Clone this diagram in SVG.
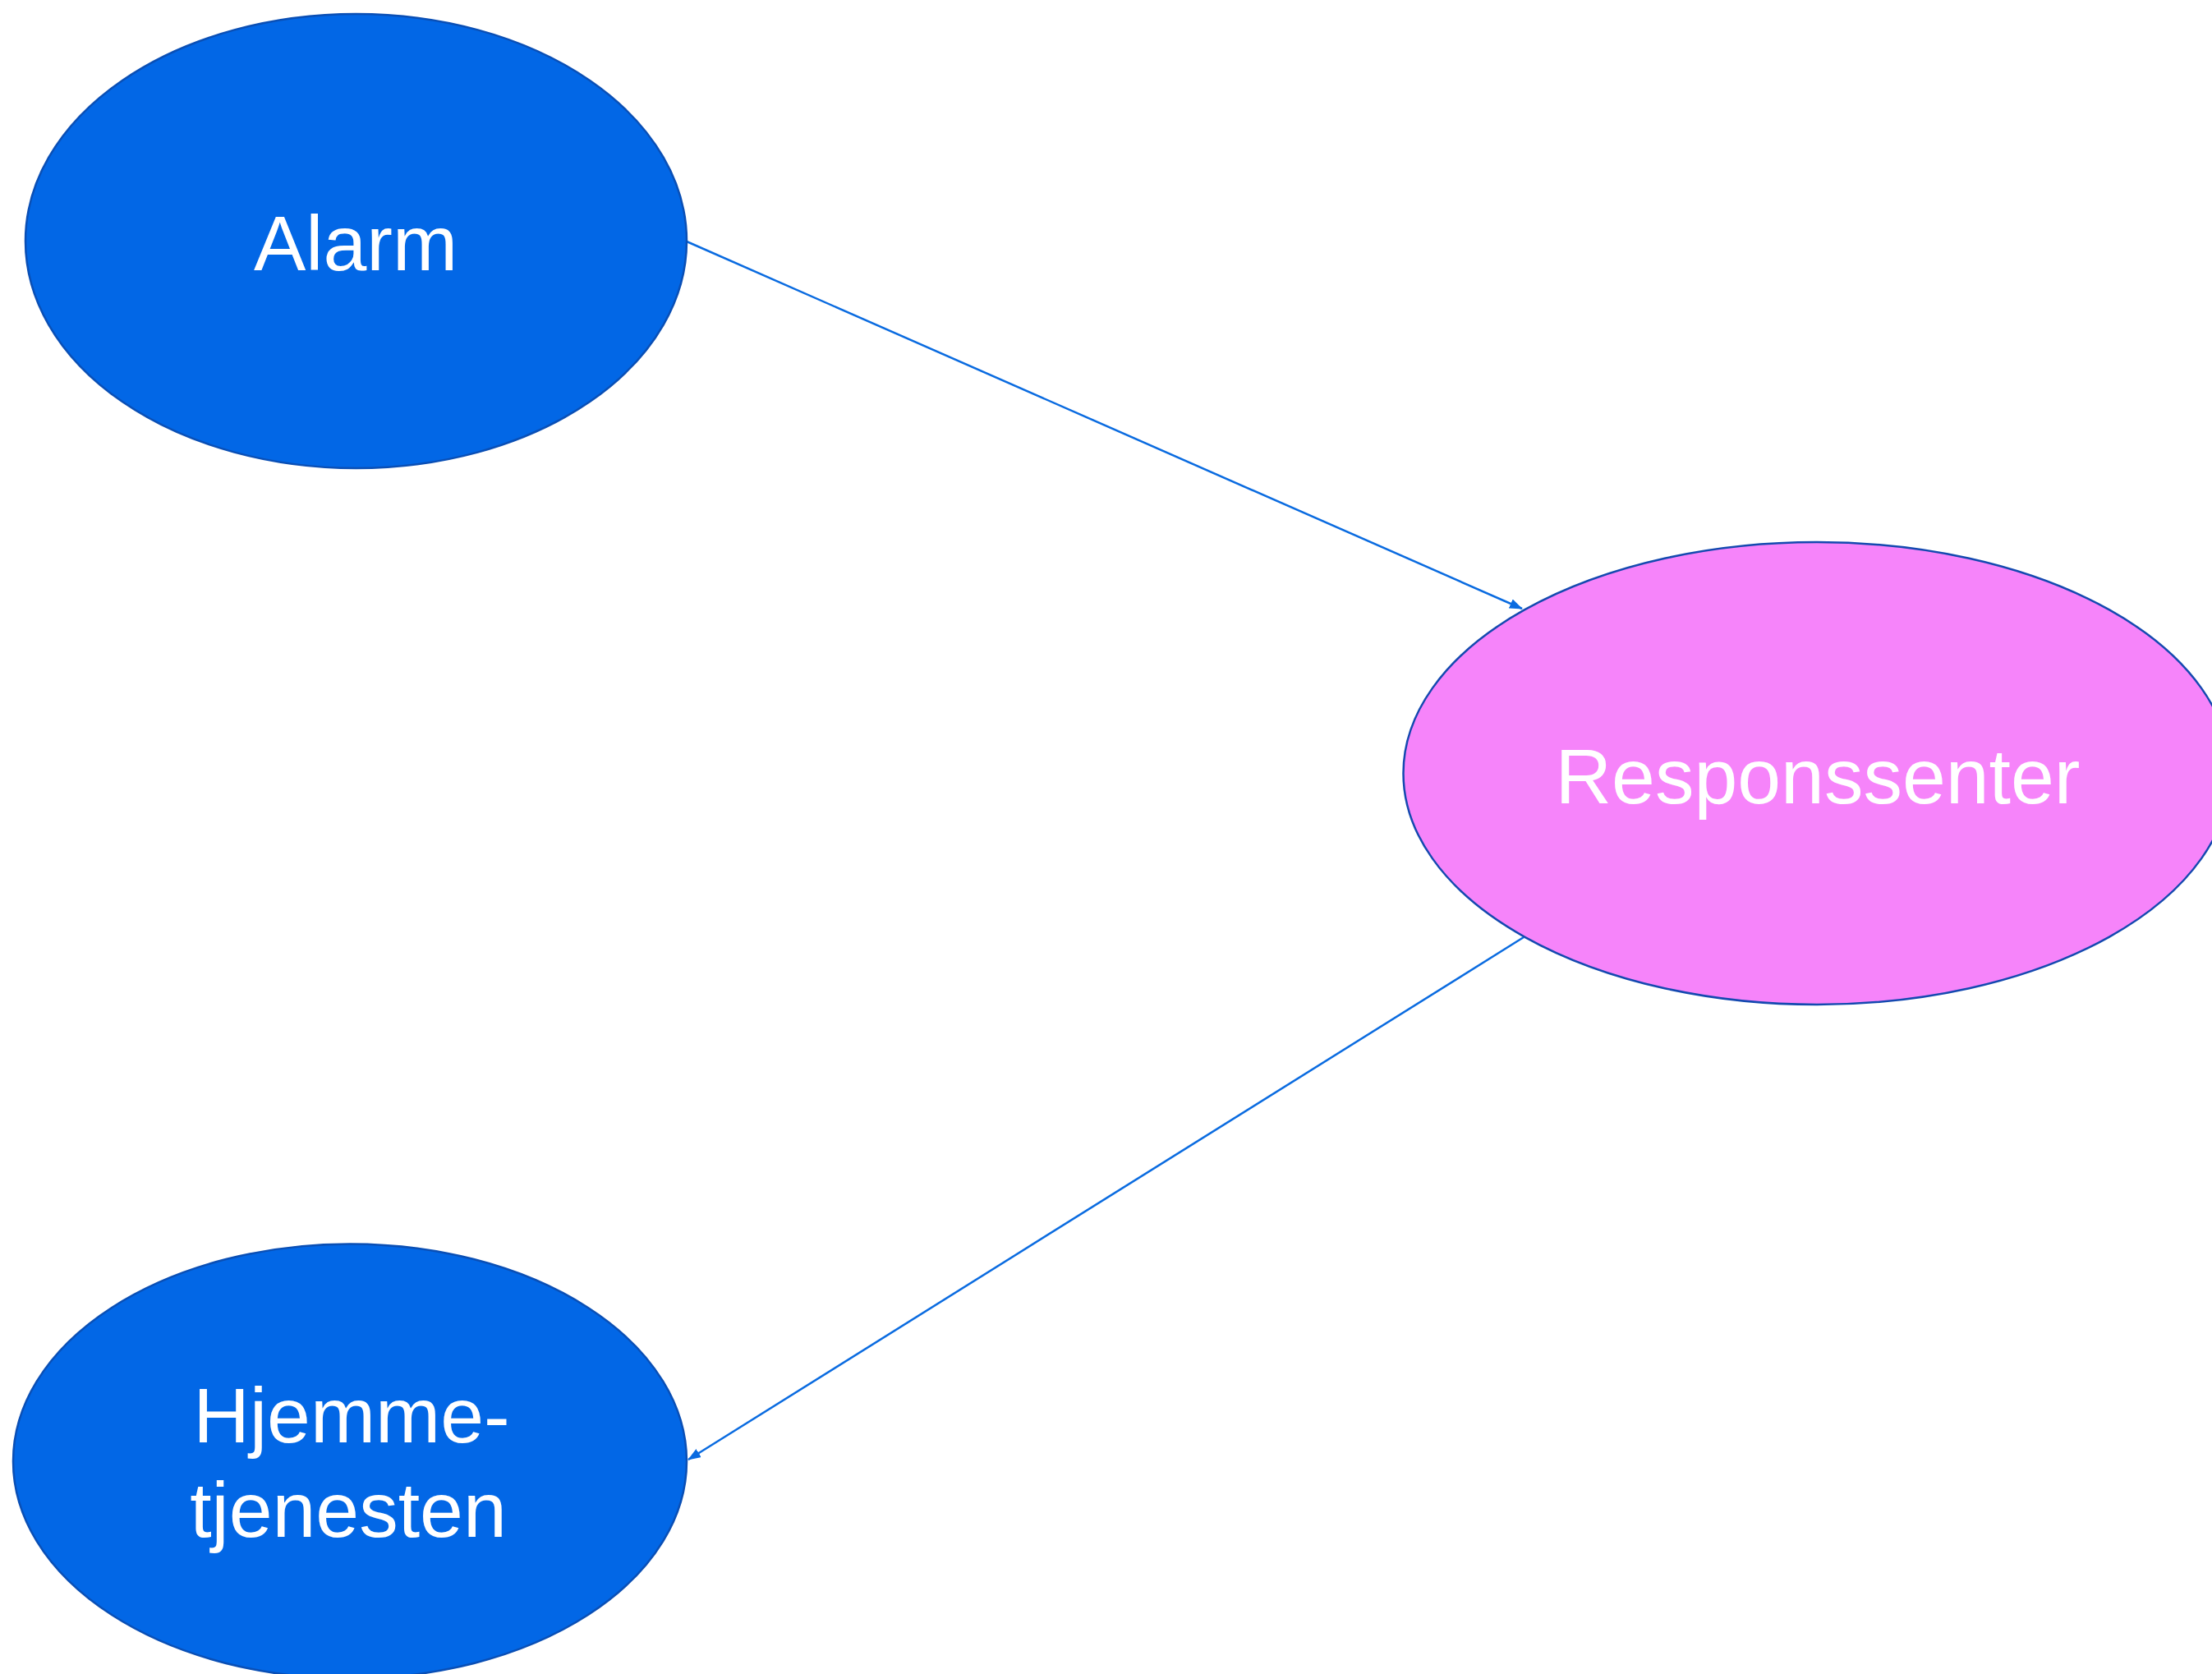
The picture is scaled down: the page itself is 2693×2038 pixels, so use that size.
<svg xmlns="http://www.w3.org/2000/svg" width="2693" height="2038" viewBox="0 0 2693 2038">
<defs>
<style>
.blue{fill:#0267E6;stroke:#0A4FB5;stroke-width:2.5}
.pink{fill:#F684FA;stroke:#1449B0;stroke-width:2.5}
.lbl{font-family:"Liberation Sans",Arial,sans-serif;font-size:95px;fill:#FFFFFF;text-anchor:middle}
.edge{stroke:#0A6BE0;stroke-width:2.5;fill:none}
</style>
<marker id="arr" markerUnits="userSpaceOnUse" markerWidth="16" markerHeight="12" refX="15" refY="6" orient="auto">
<path d="M0,0 L16,6 L0,12 z" fill="#0A6BE0"/>
</marker>
</defs>
<rect x="0" y="0" width="2693" height="2038" fill="#FFFFFF"/>
<g id="connectors">
<line class="edge" x1="836" y1="294" x2="1853" y2="741" marker-end="url(#arr)"/>
<line class="edge" x1="1855" y1="1141" x2="838" y2="1777" marker-end="url(#arr)"/>
</g>
<g id="alarm">
<ellipse class="blue" cx="433.5" cy="293.5" rx="402.5" ry="276.5"/>
<text class="lbl" x="433" y="329">Alarm</text>
</g>
<g id="responssenter">
<ellipse class="pink" cx="2212" cy="941.5" rx="503.5" ry="281.5"/>
<text class="lbl" x="2213" y="978">Responssenter</text>
</g>
<g id="hjemmetjenesten">
<ellipse class="blue" cx="426" cy="1779" rx="410" ry="264.5"/>
<text class="lbl" x="428" y="1756">Hjemme-</text>
<text class="lbl" x="424" y="1871">tjenesten</text>
</g>
</svg>
